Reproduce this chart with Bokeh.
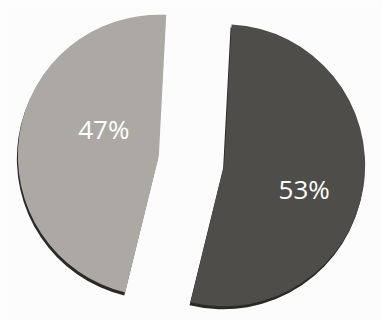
import math
from bokeh.plotting import figure
from bokeh.models import ColumnDataSource
from bokeh.core.properties import value
from bokeh.embed import file_html
from bokeh.resources import INLINE

labels = ["47%", "53%"]
shares = [47, 53]
colors = ["#aca8a4", "#4e4d49"]

W, H = 382, 320
p = figure(width=W, height=H, x_range=(0, W), y_range=(0, H),
           output_backend="svg", toolbar_location=None, min_border=0)
p.axis.visible = False
p.grid.visible = False
p.outline_line_color = None
p.background_fill_color = "#fcfcfc"
p.border_fill_color = "#fcfcfc"

cx, cy = 191, 160
r = 141
explode = 33
start0 = math.radians(87)
total = sum(shares)

starts, ends, xs, ys, lx, ly = [], [], [], [], [], []
a = start0
label_off = [(-55, 27), (80, -24)]
for i, s in enumerate(shares):
    span = 2 * math.pi * s / total
    mid = a + span / 2
    x0 = cx + explode * math.cos(mid)
    y0 = cy + explode * math.sin(mid)
    starts.append(a)
    ends.append(a + span)
    xs.append(x0)
    ys.append(y0)
    lx.append(x0 + label_off[i][0])
    ly.append(y0 + label_off[i][1])
    a += span

src = ColumnDataSource(dict(x=xs, y=ys, start=starts, end=ends, color=colors,
                            label=labels, lx=lx, ly=ly,
                            sx=[x - 1 for x in xs], sy=[y - 3 for y in ys]))

p.wedge(x="sx", y="sy", radius=r, start_angle="start", end_angle="end",
        fill_color="#2a2926", line_color=None, source=src)
p.wedge(x="x", y="y", radius=r, start_angle="start", end_angle="end",
        fill_color="color", line_color=None, source=src)
p.text(x="lx", y="ly", text="label", source=src, text_color="white",
       text_font=value("Open Sans"), text_font_size="26px",
       text_align="center", text_baseline="middle")

open("out.html", "w").write(file_html(p, INLINE))
